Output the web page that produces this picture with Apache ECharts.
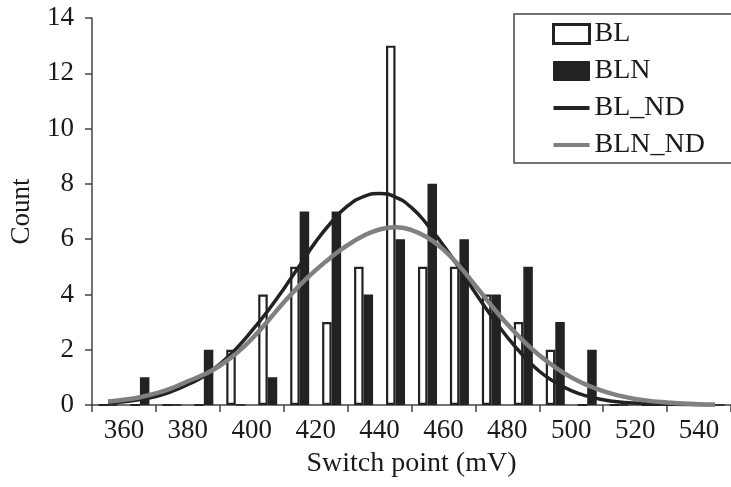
<!DOCTYPE html>
<html>
<head>
<meta charset="utf-8">
<script src="https://cdn.jsdelivr.net/npm/echarts@6/dist/echarts.min.js"></script>
<style>
  html, body { margin: 0; padding: 0; background: #fff; }
  #chart { width: 731px; height: 487px; }
</style>
</head>
<body>
<div id="chart"></div>
<script>
// Histogram bins (mV, bin centres, 10 mV wide)
const bins = [355, 365, 375, 385, 395, 405, 415, 425, 435, 445,
              455, 465, 475, 485, 495, 505, 515, 525, 535, 545];
// Counts per bin
const blCounts  = [0, 0, 0, 0, 2, 4, 5, 3, 5, 13, 5, 5, 4, 3, 2, 0, 0, 0, 0, 0];
const blnCounts = [0, 1, 0, 2, 0, 1, 7, 7, 4, 6, 8, 6, 4, 5, 3, 2, 0, 0, 0, 0];

// Fitted normal-distribution curves, sampled every 5 mV
const ndX = [355, 360, 365, 370, 375, 380, 385, 390, 395, 400,
             405, 410, 415, 420, 425, 430, 435, 440, 445, 450,
             455, 460, 465, 470, 475, 480, 485, 490, 495, 500,
             505, 510, 515, 520, 525, 530, 535, 540, 545];
const blNd  = [0.07, 0.12, 0.20, 0.31, 0.49, 0.74, 1.04, 1.48, 2.02, 2.68,
               3.40, 4.20, 5.05, 5.90, 6.62, 7.20, 7.54, 7.65, 7.52, 7.14,
               6.52, 5.77, 4.95, 4.05, 3.22, 2.45, 1.78, 1.22, 0.82, 0.52,
               0.32, 0.19, 0.11, 0.07, 0.04, 0.03, 0.02, 0.01, 0.01];
const blnNd = [0.13, 0.19, 0.28, 0.42, 0.61, 0.86, 1.10, 1.42, 1.85, 2.39,
               3.03, 3.71, 4.33, 4.88, 5.36, 5.78, 6.12, 6.35, 6.43, 6.33,
               6.06, 5.62, 5.02, 4.32, 3.60, 2.92, 2.32, 1.80, 1.36, 1.00,
               0.72, 0.50, 0.34, 0.22, 0.14, 0.09, 0.05, 0.03, 0.02];

// Axis ticks and labels
const xTickValues  = [350, 370, 390, 410, 430, 450, 470, 490, 510, 530, 550];
const xLabelValues = [360, 380, 400, 420, 440, 460, 480, 500, 520, 540];
const yMax = 14, yStep = 2;

const FONT = '"Liberation Serif", "Times New Roman", serif';
const INK = '#1a1a1a';
const AXIS = '#444';
// Flat bar used as the legend key for the curves
const LINE_KEY = 'path://M0,0L36,0L36,4L0,4Z';

const chart = echarts.init(document.getElementById('chart'), null, { renderer: 'canvas' });

chart.setOption({
  animation: false,
  backgroundColor: '#fff',
  textStyle: { fontFamily: FONT, color: INK },
  grid: { left: 92, right: -5, top: 18, bottom: 82, containLabel: false },
  legend: {
    orient: 'vertical',
    left: 514, top: 14,
    padding: [6, 40, 4, 38],
    itemWidth: 36, itemHeight: 19, itemGap: 9,
    borderColor: AXIS, borderWidth: 1.5,
    backgroundColor: '#fff',
    textStyle: { fontFamily: FONT, fontSize: 28, lineHeight: 27, color: INK },
    data: [
      { name: 'BL', icon: 'rect', itemStyle: { color: '#fff', borderColor: '#222', borderWidth: 3 } },
      { name: 'BLN', icon: 'rect', itemStyle: { color: '#222', borderColor: '#222', borderWidth: 1 } },
      { name: 'BL_ND', icon: LINE_KEY, itemStyle: { color: '#222', borderWidth: 0 } },
      { name: 'BLN_ND', icon: LINE_KEY, itemStyle: { color: '#808080', borderWidth: 0 } }
    ]
  },
  xAxis: [
    {
      type: 'category',
      data: bins,
      boundaryGap: true,
      show: false
    },
    {
      type: 'value',
      min: 350, max: 550,
      position: 'bottom',
      name: 'Switch point (mV)',
      nameLocation: 'middle',
      nameGap: 45,
      nameTextStyle: { fontFamily: FONT, fontSize: 28, color: INK },
      axisLine: { show: true, onZero: false, lineStyle: { color: AXIS, width: 1.5 } },
      axisTick: { show: true, length: 7, customValues: xTickValues, lineStyle: { color: AXIS, width: 1.5 } },
      axisLabel: { show: true, customValues: xLabelValues, margin: 12, fontFamily: FONT, fontSize: 27, color: INK },
      splitLine: { show: false }
    }
  ],
  yAxis: {
    type: 'value',
    min: 0, max: yMax, interval: yStep,
    name: 'Count',
    nameLocation: 'middle',
    nameGap: 57,
    nameTextStyle: { fontFamily: FONT, fontSize: 27, color: INK },
    axisLine: { show: true, lineStyle: { color: AXIS, width: 1.5 } },
    axisTick: { show: true, length: 7, lineStyle: { color: AXIS, width: 1.5 } },
    axisLabel: { margin: 18, fontFamily: FONT, fontSize: 27, color: INK },
    splitLine: { show: false }
  },
  series: [
    {
      name: 'BL', type: 'bar',
      xAxisIndex: 0, yAxisIndex: 0,
      data: blCounts,
      barWidth: 9.5, barGap: '0%',
      itemStyle: { color: '#fff', borderColor: '#222', borderWidth: 2.2 }
    },
    {
      name: 'BLN', type: 'bar',
      xAxisIndex: 0, yAxisIndex: 0,
      data: blnCounts,
      barWidth: 9.5, barGap: '0%',
      itemStyle: { color: '#222', borderColor: '#222', borderWidth: 1.5 }
    },
    {
      name: 'BL_ND', type: 'line',
      xAxisIndex: 1, yAxisIndex: 0,
      data: ndX.map((x, i) => [x, blNd[i]]),
      smooth: true, symbol: 'none',
      lineStyle: { color: '#222', width: 3.5 },
      itemStyle: { color: '#222' }
    },
    {
      name: 'BLN_ND', type: 'line',
      xAxisIndex: 1, yAxisIndex: 0,
      data: ndX.map((x, i) => [x, blnNd[i]]),
      smooth: true, symbol: 'none',
      lineStyle: { color: '#808080', width: 4.5 },
      itemStyle: { color: '#808080' }
    }
  ]
});
</script>
</body>
</html>
